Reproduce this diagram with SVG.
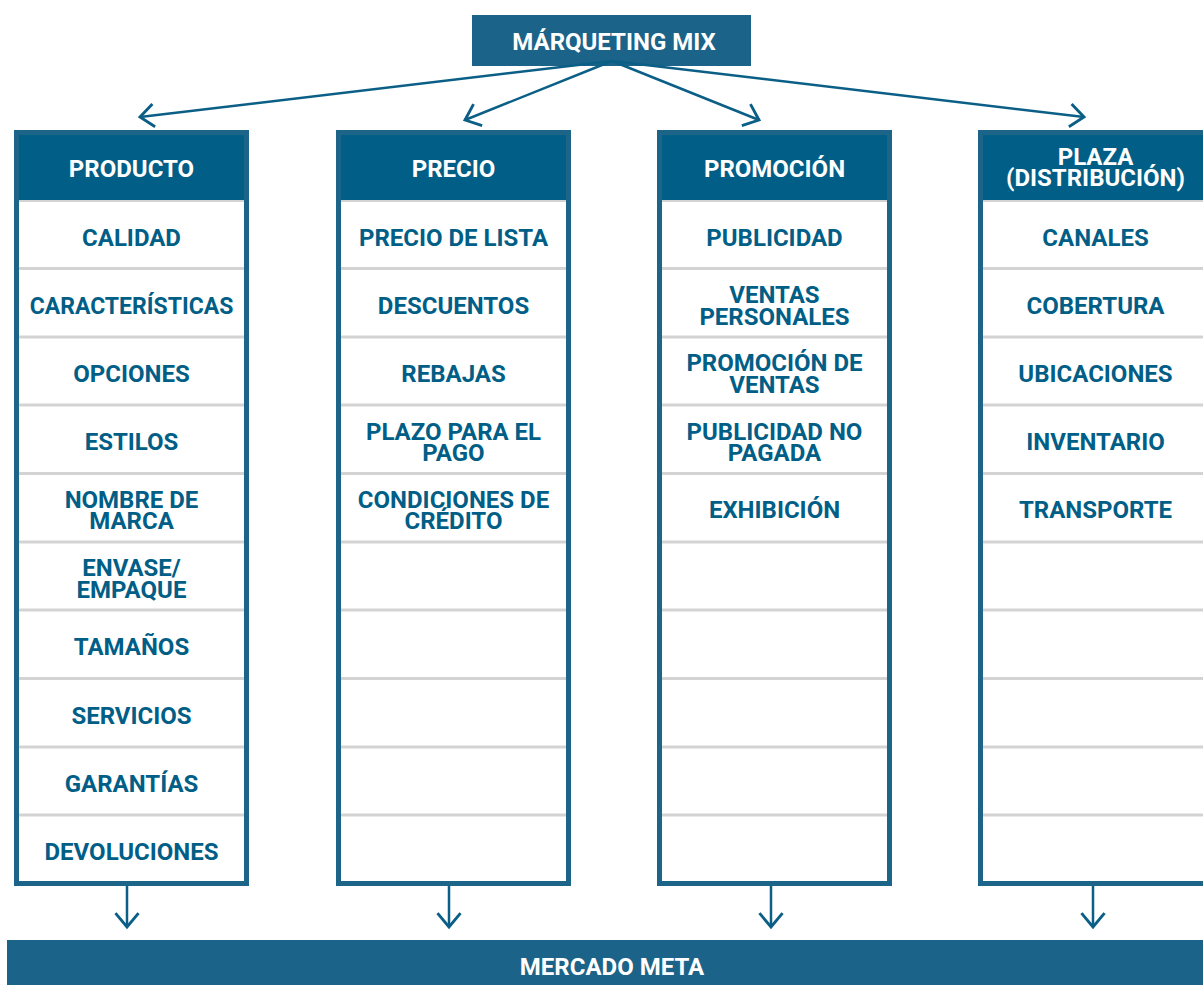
<svg xmlns="http://www.w3.org/2000/svg" width="1203" height="985" viewBox="0 0 1203 985">
<defs>
<style>
.frame{fill:#1d6489}
.head{fill:#015e86}
.body{fill:#ffffff}
.sep{stroke:#d3d3d3;stroke-width:3}
.t{font-family:Roboto,"Liberation Sans",sans-serif;font-weight:700;font-size:24px;fill:#015e86;text-anchor:middle}
.w{fill:#ffffff}
.conn{stroke:#0b5f86;stroke-width:2.5;fill:none}
.box{fill:#1b6388}
</style>
<marker id="ah" markerUnits="userSpaceOnUse" markerWidth="30" markerHeight="30" viewBox="-16 -13 20 26" refX="0" refY="0" orient="auto">
<path d="M-12,-10 L0,0 L-12,10" fill="none" stroke="#0b5f86" stroke-width="2.5"/>
</marker>
</defs>
<rect width="1203" height="985" fill="#ffffff"/>

<g id="marketing-mix">
<rect class="box" x="472" y="15" width="279" height="51"/>
<text class="t w" x="614" y="50">MÁRQUETING MIX</text>
</g>

<g id="producto">
<rect class="frame" x="14" y="130" width="235" height="756"/>
<rect class="head" x="19" y="135" width="225" height="65"/>
<rect class="body" x="19" y="200" width="225" height="681"/>
<g class="sep"><line x1="19" y1="201" x2="244" y2="201" stroke-width="2"/><line x1="19" y1="268.5" x2="244" y2="268.5"/><line x1="19" y1="337" x2="244" y2="337"/><line x1="19" y1="405" x2="244" y2="405"/><line x1="19" y1="473.5" x2="244" y2="473.5"/><line x1="19" y1="542" x2="244" y2="542"/><line x1="19" y1="610" x2="244" y2="610"/><line x1="19" y1="678.5" x2="244" y2="678.5"/><line x1="19" y1="747" x2="244" y2="747"/><line x1="19" y1="815" x2="244" y2="815"/></g>
<text class="t w" x="131.5" y="177">PRODUCTO</text>
<text class="t" x="131.5" y="245.5">CALIDAD</text>
<text class="t" x="131.5" y="313.5" style="font-size:23px">CARACTERÍSTICAS</text>
<text class="t" x="131.5" y="382">OPCIONES</text>
<text class="t" x="131.5" y="450">ESTILOS</text>
<text class="t" x="131.5" y="507.5">NOMBRE DE</text>
<text class="t" x="131.5" y="529">MARCA</text>
<text class="t" x="131.5" y="576">ENVASE/</text>
<text class="t" x="131.5" y="597.5">EMPAQUE</text>
<text class="t" x="131.5" y="655">TAMAÑOS</text>
<text class="t" x="131.5" y="723.5">SERVICIOS</text>
<text class="t" x="131.5" y="791.5">GARANTÍAS</text>
<text class="t" x="131.5" y="859.5">DEVOLUCIONES</text>
</g>

<g id="precio">
<rect class="frame" x="336" y="130" width="235" height="756"/>
<rect class="head" x="341" y="135" width="225" height="65"/>
<rect class="body" x="341" y="200" width="225" height="681"/>
<g class="sep"><line x1="341" y1="201" x2="566" y2="201" stroke-width="2"/><line x1="341" y1="268.5" x2="566" y2="268.5"/><line x1="341" y1="337" x2="566" y2="337"/><line x1="341" y1="405" x2="566" y2="405"/><line x1="341" y1="473.5" x2="566" y2="473.5"/><line x1="341" y1="542" x2="566" y2="542"/><line x1="341" y1="610" x2="566" y2="610"/><line x1="341" y1="678.5" x2="566" y2="678.5"/><line x1="341" y1="747" x2="566" y2="747"/><line x1="341" y1="815" x2="566" y2="815"/></g>
<text class="t w" x="453.5" y="177">PRECIO</text>
<text class="t" x="453.5" y="245.5">PRECIO DE LISTA</text>
<text class="t" x="453.5" y="313.5">DESCUENTOS</text>
<text class="t" x="453.5" y="382">REBAJAS</text>
<text class="t" x="453.5" y="439.5">PLAZO PARA EL</text>
<text class="t" x="453.5" y="461">PAGO</text>
<text class="t" x="453.5" y="507.5">CONDICIONES DE</text>
<text class="t" x="453.5" y="529">CRÉDITO</text>
</g>

<g id="promocion">
<rect class="frame" x="657" y="130" width="235" height="756"/>
<rect class="head" x="662" y="135" width="225" height="65"/>
<rect class="body" x="662" y="200" width="225" height="681"/>
<g class="sep"><line x1="662" y1="201" x2="887" y2="201" stroke-width="2"/><line x1="662" y1="268.5" x2="887" y2="268.5"/><line x1="662" y1="337" x2="887" y2="337"/><line x1="662" y1="405" x2="887" y2="405"/><line x1="662" y1="473.5" x2="887" y2="473.5"/><line x1="662" y1="542" x2="887" y2="542"/><line x1="662" y1="610" x2="887" y2="610"/><line x1="662" y1="678.5" x2="887" y2="678.5"/><line x1="662" y1="747" x2="887" y2="747"/><line x1="662" y1="815" x2="887" y2="815"/></g>
<text class="t w" x="774.5" y="177">PROMOCIÓN</text>
<text class="t" x="774.5" y="245.5">PUBLICIDAD</text>
<text class="t" x="774.5" y="303">VENTAS</text>
<text class="t" x="774.5" y="324.5">PERSONALES</text>
<text class="t" x="774.5" y="371">PROMOCIÓN DE</text>
<text class="t" x="774.5" y="392.5">VENTAS</text>
<text class="t" x="774.5" y="439.5">PUBLICIDAD NO</text>
<text class="t" x="774.5" y="461">PAGADA</text>
<text class="t" x="774.5" y="518">EXHIBICIÓN</text>
</g>

<g id="plaza">
<rect class="frame" x="978" y="130" width="235" height="756"/>
<rect class="head" x="983" y="135" width="225" height="65"/>
<rect class="body" x="983" y="200" width="225" height="681"/>
<g class="sep"><line x1="983" y1="201" x2="1208" y2="201" stroke-width="2"/><line x1="983" y1="268.5" x2="1208" y2="268.5"/><line x1="983" y1="337" x2="1208" y2="337"/><line x1="983" y1="405" x2="1208" y2="405"/><line x1="983" y1="473.5" x2="1208" y2="473.5"/><line x1="983" y1="542" x2="1208" y2="542"/><line x1="983" y1="610" x2="1208" y2="610"/><line x1="983" y1="678.5" x2="1208" y2="678.5"/><line x1="983" y1="747" x2="1208" y2="747"/><line x1="983" y1="815" x2="1208" y2="815"/></g>
<text class="t w" x="1095.5" y="165">PLAZA</text>
<text class="t w" x="1095.5" y="185.5">(DISTRIBUCIÓN)</text>
<text class="t" x="1095.5" y="245.5">CANALES</text>
<text class="t" x="1095.5" y="313.5">COBERTURA</text>
<text class="t" x="1095.5" y="382">UBICACIONES</text>
<text class="t" x="1095.5" y="450">INVENTARIO</text>
<text class="t" x="1095.5" y="518">TRANSPORTE</text>
</g>

<g id="mercado-meta">
<rect class="box" x="7" y="940" width="1196" height="45"/>
<text class="t w" x="612" y="975">MERCADO META</text>
</g>

<g id="connectors">
<line class="conn" x1="612" y1="61" x2="140" y2="117" marker-end="url(#ah)"/>
<line class="conn" x1="612" y1="61" x2="465" y2="120" marker-end="url(#ah)"/>
<line class="conn" x1="612" y1="61" x2="759" y2="120" marker-end="url(#ah)"/>
<line class="conn" x1="612" y1="61" x2="1084" y2="117" marker-end="url(#ah)"/>
<line class="conn" x1="127" y1="886" x2="127" y2="927" marker-end="url(#ah)" stroke-width="2"/>
<line class="conn" x1="449" y1="886" x2="449" y2="927" marker-end="url(#ah)" stroke-width="2"/>
<line class="conn" x1="771" y1="886" x2="771" y2="927" marker-end="url(#ah)" stroke-width="2"/>
<line class="conn" x1="1093" y1="886" x2="1093" y2="927" marker-end="url(#ah)" stroke-width="2"/>
</g>
</svg>
